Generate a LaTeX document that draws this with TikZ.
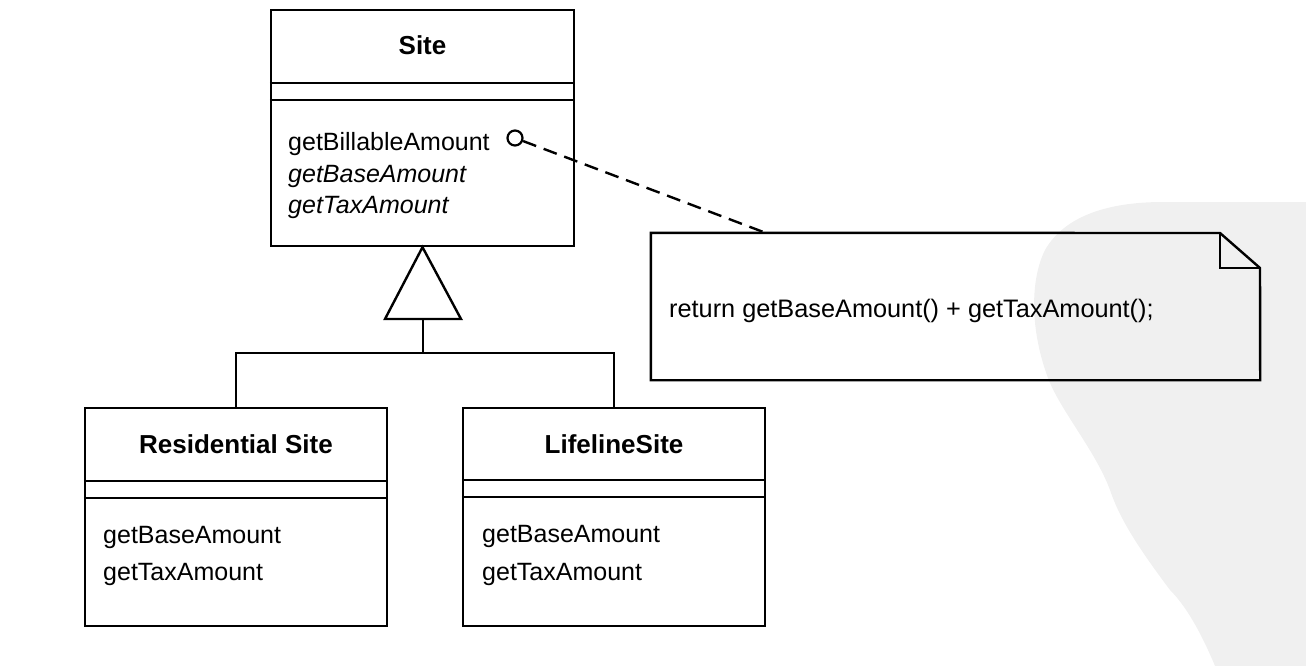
\documentclass[tikz,border=0pt]{standalone}
\usepackage{fontspec}
\setmainfont{Liberation Sans}
\begin{document}
\begin{tikzpicture}[x=1pt,y=-1pt,
  ln/.style={line width=2.4pt},
  box/.style={draw,line width=2.4pt,rectangle,inner sep=0pt},
  ttl/.style={font=\fontsize{26}{30}\selectfont\bfseries,inner sep=0pt},
  mth/.style={font=\fontsize{25}{30}\selectfont,inner sep=0pt,anchor=base west},
  mthi/.style={font=\fontsize{25}{30}\selectfont\itshape,inner sep=0pt,anchor=base west},
  notetxt/.style={font=\fontsize{25.3}{30}\selectfont,inner sep=0pt,anchor=base west}]
\useasboundingbox (0,0) rectangle (1306,666);
% watermark background
\fill[gray!12] (1163,202) -- (1306,202) -- (1306,666) -- (1215,666)
  .. controls (1200,630) and (1185,605) .. (1170,590)
  .. controls (1140,550) and (1120,520) .. (1110,490)
  .. controls (1095,450) and (1060,410) .. (1048,378)
  .. controls (1030,330) and (1030,280) .. (1045,250)
  .. controls (1065,215) and (1110,202) .. (1163,202) -- cycle;

% Site
\node[box,minimum width=303pt,minimum height=236pt] (site) at (422.5,128) {};
\draw[ln] (site.west |- 0,83) -- (site.east |- 0,83);
\draw[ln] (site.west |- 0,100) -- (site.east |- 0,100);
\node[ttl,anchor=base] (sitet) at (422.5,55) {Site};
\node[mth] (s1) at (288,150) {getBillableAmount};
\node[mthi] (s2) at (288,182) {getBaseAmount};
\node[mthi] (s3) at (288,213) {getTaxAmount};
\node[draw,circle,line width=2.2pt,minimum size=15pt,inner sep=0pt] (ball) at (515,138) {};

% Residential Site
\node[box,minimum width=302pt,minimum height=218pt] (res) at (236,517) {};
\draw[ln] (res.west |- 0,481) -- (res.east |- 0,481);
\draw[ln] (res.west |- 0,498) -- (res.east |- 0,498);
\node[ttl,anchor=base] (rest) at (236,453) {Residential Site};
\node[mth] (r1) at (103,543) {getBaseAmount};
\node[mth] (r2) at (103,580) {getTaxAmount};

% LifelineSite
\node[box,minimum width=302pt,minimum height=218pt] (life) at (614,517) {};
\draw[ln] (life.west |- 0,480) -- (life.east |- 0,480);
\draw[ln] (life.west |- 0,497) -- (life.east |- 0,497);
\node[ttl,anchor=base] (lifet) at (614,453) {LifelineSite};
\node[mth] (l1) at (482,542) {getBaseAmount};
\node[mth] (l2) at (482,580) {getTaxAmount};

% inheritance
\coordinate (tri) at (423,319);
\coordinate (junc) at (423,353);
\draw[ln,line join=miter] (site.south) -- (tri -| 385,0) -- (tri -| 461,0) -- cycle;
\draw[ln] (tri) -- (junc);
\draw[ln] (res.north) -- (res.north |- junc) -- (life.north |- junc) -- (life.north);

% note
\node[minimum width=609pt,minimum height=147pt,inner sep=0pt] (note) at (955.5,306.5) {};
\draw[ln,line join=miter] (note.north west) -- (1220,233) -- (1260,268) -- (note.south east) -- (note.south west) -- cycle;
\draw[ln] (1220,233) -- (1220,268) -- (1260,268);
\node[notetxt] (nt) at (669,317) {return getBaseAmount() + getTaxAmount();};
\coordinate (nanchor) at (766,233);
\draw[ln,dash pattern=on 14pt off 8pt] (ball) -- (nanchor);
\end{tikzpicture}
\end{document}
